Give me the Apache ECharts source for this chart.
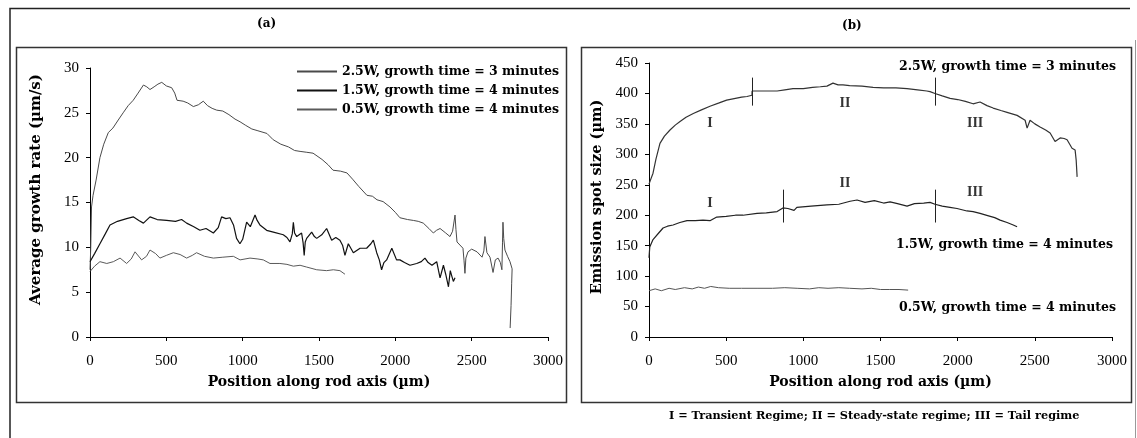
<!DOCTYPE html>
<html>
<head>
<meta charset="utf-8">
<script src="https://cdn.jsdelivr.net/npm/echarts@6/dist/echarts.min.js"></script>
<style>
html,body{margin:0;padding:0;background:#fff;}
#c{width:1137px;height:438px;}
</style>
</head>
<body>
<div id="c"></div>
<script>
// ---- Data ----
var seriesNames = ['2.5W, growth time = 3 minutes', '1.5W, growth time = 4 minutes', '0.5W, growth time = 4 minutes'];

// Panel (a): average growth rate (µm/s) vs position (µm)
var growth25 = [[0,7.5],[5,10],[10,14.5],[20,15.8],[40,17.5],[65,20],[90,21.5],[120,22.8],[150,23.3],[185,24.2],[217,25],[250,25.8],[283,26.4],[315,27.2],[350,28.1],[372,27.9],[393,27.6],[420,27.9],[445,28.2],[470,28.4],[500,28],[535,27.8],[555,27.2],[570,26.4],[610,26.3],[640,26.1],[677,25.7],[710,25.9],[742,26.3],[770,25.8],[800,25.5],[830,25.3],[870,25.2],[910,24.8],[950,24.3],[983,24],[1020,23.6],[1060,23.2],[1100,23],[1159,22.7],[1200,22],[1250,21.5],[1300,21.2],[1340,20.8],[1376,20.7],[1420,20.6],[1461,20.5],[1520,19.8],[1560,19.2],[1592,18.6],[1640,18.5],[1683,18.3],[1720,17.6],[1760,16.8],[1814,15.8],[1850,15.7],[1880,15.3],[1920,15.1],[1965,14.5],[2000,13.9],[2030,13.3],[2080,13.1],[2118,13.0],[2150,12.9],[2183,12.7],[2220,12.1],[2249,11.6],[2270,11.9],[2293,12.1],[2330,11.6],[2358,11.2],[2375,11.8],[2391,13.6],[2397,12.0],[2404,10.6],[2443,9.9],[2450,8.5],[2456,7.1],[2462,8.8],[2476,9.5],[2500,9.8],[2535,9.5],[2568,8.9],[2580,9.6],[2587,11.2],[2600,9.4],[2620,8.9],[2640,7.2],[2655,8.6],[2673,8.8],[2688,8.3],[2698,7.5],[2702,10.5],[2705,12.8],[2710,11.0],[2718,9.7],[2735,9.0],[2751,8.4],[2765,7.6],[2762,6.0],[2758,3.5],[2752,1.0]];
var growth15 = [[0,8.4],[30,9.3],[65,10.4],[100,11.5],[131,12.5],[180,12.9],[240,13.2],[283,13.4],[320,13.0],[350,12.7],[393,13.4],[440,13.1],[502,13.0],[560,12.9],[600,13.1],[633,12.7],[680,12.3],[720,11.9],[760,12.1],[808,11.6],[840,12.2],[862,13.4],[890,13.2],[917,13.3],[940,12.5],[960,11.0],[982,10.4],[1000,10.9],[1026,12.8],[1050,12.3],[1081,13.6],[1095,13.0],[1113,12.5],[1157,11.9],[1201,11.7],[1266,11.4],[1290,11.1],[1310,10.6],[1325,11.5],[1332,12.8],[1340,11.6],[1354,11.2],[1386,11.6],[1396,10.5],[1403,9.1],[1410,10.6],[1419,11.0],[1452,11.7],[1470,11.2],[1485,11.0],[1518,11.4],[1550,12.1],[1583,10.8],[1610,11.1],[1637,10.8],[1655,10.2],[1670,9.1],[1680,9.7],[1692,10.4],[1725,9.4],[1769,9.9],[1812,9.9],[1840,10.4],[1856,10.8],[1878,9.4],[1895,8.6],[1910,7.5],[1925,8.3],[1943,8.6],[1977,9.9],[2008,8.6],[2030,8.6],[2060,8.3],[2096,8.0],[2140,8.2],[2170,8.4],[2194,8.8],[2215,8.3],[2240,8.0],[2271,8.4],[2283,7.4],[2293,6.6],[2315,8.0],[2330,7.0],[2348,5.6],[2360,7.4],[2368,6.9],[2380,6.2],[2391,6.6]];
var growth05 = [[0,7.3],[30,7.9],[65,8.4],[110,8.2],[153,8.4],[197,8.8],[240,8.2],[270,8.7],[295,9.5],[338,8.6],[370,9.0],[393,9.7],[430,9.3],[458,8.8],[500,9.1],[546,9.4],[590,9.2],[633,8.8],[670,9.1],[698,9.4],[750,9.0],[808,8.8],[870,8.9],[939,9.0],[983,8.6],[1048,8.8],[1100,8.7],[1135,8.6],[1179,8.2],[1244,8.2],[1290,8.1],[1332,7.9],[1376,8.0],[1419,7.8],[1485,7.5],[1550,7.4],[1594,7.5],[1637,7.4],[1670,7.0]];

// Panel (b): emission spot size (µm) vs position (µm)
var spot25 = [[0,251],[10,258],[26,269],[45,292],[71,318],[100,330],[136,340],[170,348],[201,354],[240,361],[287,367],[340,373],[395,379],[450,384],[503,389],[560,392],[600,394],[635,395],[667,397],[668,404],[720,404],[780,404],[830,404],[880,406],[933,408],[1000,408],[1060,410],[1110,411],[1153,412],[1192,417],[1225,414],[1257,414],[1300,413],[1380,412],[1452,410],[1520,409],[1600,409],[1672,408],[1740,406],[1800,404],[1821,403],[1853,400],[1900,396],[1951,392],[2000,390],[2050,387],[2100,383],[2145,386],[2190,380],[2230,376],[2280,372],[2320,369],[2385,364],[2437,356],[2450,343],[2469,356],[2500,350],[2534,345],[2570,340],[2599,335],[2631,321],[2664,327],[2690,326],[2709,324],[2741,310],[2761,307],[2768,290],[2774,263]];
var spot15 = [[0,130],[5,148],[26,160],[60,170],[91,179],[120,182],[156,184],[200,188],[246,191],[300,191],[350,192],[395,191],[439,197],[500,198],[560,200],[609,200],[700,203],[760,204],[830,206],[868,212],[900,211],[940,208],[958,213],[1050,215],[1153,217],[1230,218],[1303,223],[1348,225],[1400,221],[1460,224],[1520,220],[1562,222],[1610,219],[1672,215],[1720,219],[1780,220],[1821,221],[1853,218],[1900,215],[1950,213],[1996,211],[2060,207],[2100,206],[2145,203],[2200,199],[2240,196],[2275,192],[2320,188],[2360,184],[2385,181]];
var spot05 = [[0,76],[40,79],[80,76],[130,80],[170,78],[230,81],[280,79],[320,82],[360,80],[400,83],[450,81],[520,80],[600,80],[700,80],[800,80],[880,81],[960,80],[1040,79],[1100,81],[1160,80],[1230,81],[1300,80],[1380,79],[1440,80],[1500,78],[1560,78],[1620,78],[1679,77]];

// Regime boundaries on (b) and regime labels
var regimeBounds25 = [667, 1853];
var regimeBounds15 = [868, 1853];
var regimeLabels = ['I', 'II', 'III'];
var regimeLabelPts25 = [[395, 350], [1270, 383], [2113, 350]];
var regimeLabelPts15 = [[395, 220], [1270, 253], [2113, 238]];

var xTitle = 'Position along rod axis (\u00b5m)';
var yTitleA = 'Average growth rate (\u00b5m/s)';
var yTitleB = 'Emission spot size (\u00b5m)';
var footNote = 'I = Transient Regime; II = Steady-state regime; III = Tail regime';

// ---- Chart ----
var F = '"Liberation Serif", "Times New Roman", serif';
var FB = '"DejaVu Serif", "Liberation Serif", serif';
var chart = echarts.init(document.getElementById('c'));

function plainNum(v) { return String(v); }

function xAxisCfg(gi) {
  return {
    type: 'value', gridIndex: gi, min: 0, max: 3000, interval: 500,
    name: xTitle, nameLocation: 'middle', nameGap: 38,
    nameTextStyle: {fontFamily: FB, fontWeight: 'bold', fontSize: 14, color: '#000'},
    axisLine: {show: true, lineStyle: {color: '#000', width: 1}},
    axisTick: {show: true, length: 4, lineStyle: {color: '#000'}},
    axisLabel: {fontFamily: F, fontSize: 15, color: '#000', margin: 17, formatter: plainNum},
    splitLine: {show: false}
  };
}
function yAxisCfg(gi, max, interval, name, gap, fs, shiftPad) {
  return {
    type: 'value', gridIndex: gi, min: 0, max: max, interval: interval,
    name: name, nameLocation: 'middle', nameGap: gap,
    nameTextStyle: {fontFamily: FB, fontWeight: 'bold', fontSize: fs, color: '#000', padding: [0, 0, 0, shiftPad]},
    axisLine: {show: true, lineStyle: {color: '#000', width: 1}},
    axisTick: {show: true, length: 4, lineStyle: {color: '#000'}},
    axisLabel: {fontFamily: F, fontSize: 15, color: '#000', margin: 11, formatter: plainNum},
    splitLine: {show: false}
  };
}
function boundLines(b, y0, y1) {
  return b.map(function (x) { return [{coord: [x, y0]}, {coord: [x, y1]}]; });
}
function labelPts(pts) {
  return pts.map(function (p, i) { return {value: p, name: regimeLabels[i]}; });
}

var lineCol = ['#4a4a4a', '#111111', '#5a5a5a'];

chart.setOption({
  animation: false,
  backgroundColor: '#fff',
  textStyle: {fontFamily: F},
  grid: [
    {left: 90, right: 589, top: 68, bottom: 101},
    {left: 649, right: 25, top: 63, bottom: 101}
  ],
  xAxis: [xAxisCfg(0), xAxisCfg(1)],
  yAxis: [yAxisCfg(0, 30, 5, yTitleA, 46, 15, 26), yAxisCfg(1, 450, 50, yTitleB, 44, 14.5, 6)],
  legend: {
    data: seriesNames, orient: 'vertical', left: 292, top: 60, itemGap: 6,
    itemWidth: 40, itemHeight: 2, icon: 'rect',
    textStyle: {fontFamily: FB, fontWeight: 'bold', fontSize: 12.5, color: '#000'}
  },
  graphic: [
    {type: 'polyline', shape: {points: [[10, 438], [10, 8.5], [1130, 8.5]]}, style: {stroke: '#222', lineWidth: 1.5, fill: null}},
    {type: 'line', shape: {x1: 1135.5, y1: 40, x2: 1135.5, y2: 438}, style: {stroke: '#999', lineWidth: 1}},
    {type: 'rect', shape: {x: 16.5, y: 47.5, width: 550, height: 355}, style: {stroke: '#333', lineWidth: 1.5, fill: null}},
    {type: 'rect', shape: {x: 581.5, y: 47.5, width: 550, height: 355}, style: {stroke: '#333', lineWidth: 1.5, fill: null}},
    {type: 'text', left: 257, top: 18, style: {text: '(a)', font: 'bold 12px ' + FB, fill: '#000'}},
    {type: 'text', left: 842, top: 20, style: {text: '(b)', font: 'bold 12px ' + FB, fill: '#000'}},
    {type: 'text', right: 21, top: 60, style: {text: seriesNames[0], font: 'bold 12.5px ' + FB, fill: '#000'}},
    {type: 'text', right: 24, top: 238, style: {text: seriesNames[1], font: 'bold 12.5px ' + FB, fill: '#000'}},
    {type: 'text', right: 21, top: 301, style: {text: seriesNames[2], font: 'bold 12.5px ' + FB, fill: '#000'}},
    {type: 'text', left: 669, top: 411, style: {text: footNote, font: 'bold 11.3px ' + FB, fill: '#000'}}
  ],
  series: [
    {name: seriesNames[0], type: 'line', xAxisIndex: 0, yAxisIndex: 0, data: growth25, showSymbol: false, symbol: 'none', lineStyle: {color: lineCol[0], width: 1}, itemStyle: {color: lineCol[0]}},
    {name: seriesNames[1], type: 'line', xAxisIndex: 0, yAxisIndex: 0, data: growth15, showSymbol: false, symbol: 'none', lineStyle: {color: lineCol[1], width: 1.2}, itemStyle: {color: lineCol[1]}},
    {name: seriesNames[2], type: 'line', xAxisIndex: 0, yAxisIndex: 0, data: growth05, showSymbol: false, symbol: 'none', lineStyle: {color: lineCol[2], width: 1}, itemStyle: {color: lineCol[2]}},
    {type: 'line', xAxisIndex: 1, yAxisIndex: 1, data: spot25, showSymbol: false, symbol: 'none', lineStyle: {color: '#333', width: 1.2},
      markLine: {silent: true, symbol: 'none', label: {show: false}, lineStyle: {color: '#222', type: 'solid', width: 1}, data: boundLines(regimeBounds25, 380, 426)}},
    {type: 'line', xAxisIndex: 1, yAxisIndex: 1, data: spot15, showSymbol: false, symbol: 'none', lineStyle: {color: '#222', width: 1.2},
      markLine: {silent: true, symbol: 'none', label: {show: false}, lineStyle: {color: '#222', type: 'solid', width: 1}, data: boundLines(regimeBounds15, 188, 242)}},
    {type: 'line', xAxisIndex: 1, yAxisIndex: 1, data: spot05, showSymbol: false, symbol: 'none', lineStyle: {color: '#555', width: 1}},
    {type: 'scatter', xAxisIndex: 1, yAxisIndex: 1, symbolSize: 0, data: labelPts(regimeLabelPts25).concat(labelPts(regimeLabelPts15)),
      label: {show: true, position: 'inside', formatter: '{b}', fontFamily: F, fontWeight: 'bold', fontSize: 14, color: '#000'}, silent: true}
  ]
});
</script>
</body>
</html>
